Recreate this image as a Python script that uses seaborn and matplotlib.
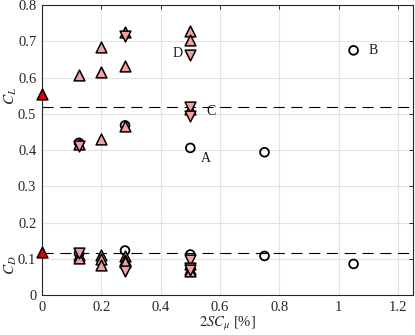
import matplotlib
matplotlib.use("Agg")
import matplotlib.pyplot as plt
import seaborn as sns
import pandas as pd

# ---- data ----
base_x = [0.0]
base_cl = [0.555]
base_cd = [0.12]

circ_x = [0.125, 0.28, 0.5, 0.75, 1.05]
circ_cl = [0.42, 0.468, 0.406, 0.394, 0.675]
circ_cd = [0.115, 0.123, 0.112, 0.108, 0.086]

up_x = [0.125, 0.125, 0.2, 0.2, 0.2, 0.28, 0.28, 0.28, 0.5, 0.5, 0.5]
up_cl = [0.608, 0.416, 0.683, 0.614, 0.431, 0.725, 0.632, 0.466, 0.728, 0.703, 0.512]
up_cd = [0.112, 0.102, 0.110, 0.100, 0.082, 0.108, 0.098, 0.092, 0.085, 0.072, 0.066]

dn_x = [0.125, 0.28, 0.5, 0.5, 0.5]
dn_cl = [0.410, 0.714, 0.663, 0.518, 0.493]
dn_cd = [0.117, 0.066, 0.098, 0.075, 0.068]

ref_cl = 0.518
ref_cd = 0.115

labels = ["A", "B", "C", "D"]
label_x = [0.535, 1.10, 0.555, 0.44]
label_y = [0.378, 0.674, 0.507, 0.667]

xticks = [0, 0.2, 0.4, 0.6, 0.8, 1.0, 1.2]
xticklabels = ["0", "0.2", "0.4", "0.6", "0.8", "1", "1.2"]
yticks = [0, 0.1, 0.2, 0.3, 0.4, 0.5, 0.6, 0.7, 0.8]
yticklabels = ["0", "0.1", "0.2", "0.3", "0.4", "0.5", "0.6", "0.7", "0.8"]

# ---- style ----
sns.set_style("white")
plt.rcParams["font.family"] = ["Liberation Serif", "DejaVu Serif"]
plt.rcParams["mathtext.fontset"] = "stix"

fig = plt.figure(figsize=(4.15, 3.35), dpi=100)
ax = fig.add_axes([0.101, 0.119, 0.894, 0.866])

pink = "#F4A0A0"
red = "#E00000"

def scat(x, y, marker, face, size, lw):
    df = pd.DataFrame({"x": x, "y": y})
    sns.scatterplot(data=df, x="x", y="y", ax=ax, marker=marker, s=size,
                    facecolor=face, edgecolor="black", linewidth=lw, zorder=3,
                    clip_on=False)

for ys in (circ_cl, circ_cd):
    scat(circ_x, ys, "o", "none", 40, 1.3)
for ys in (up_cl, up_cd):
    scat(up_x, ys, "^", pink, 60, 1.1)
for ys in (dn_cl, dn_cd):
    scat(dn_x, ys, "v", pink, 60, 1.1)
for ys in (base_cl, base_cd):
    scat(base_x, ys, "^", red, 60, 1.1)

ax.axhline(ref_cl, color="black", lw=0.8, ls=(0, (10, 6)), zorder=2)
ax.axhline(ref_cd, color="black", lw=0.8, ls=(0, (10, 6)), zorder=2)

for t, x, y in zip(labels, label_x, label_y):
    ax.text(x, y, t, fontsize=10, ha="left", va="center", color="#1a1a1a")

ax.set_xlim(0, 1.25)
ax.set_ylim(0, 0.8)
ax.set_xticks(xticks)
ax.set_xticklabels(xticklabels)
ax.set_yticks(yticks)
ax.set_yticklabels(yticklabels)
ax.tick_params(direction="in", length=3, width=0.7, top=True, right=True,
               labelsize=10.5, colors="#262626", labelcolor="#262626", pad=4)
ax.grid(True, color="#e3e3e3", lw=0.8)
ax.set_axisbelow(True)
for sp in ax.spines.values():
    sp.set_color("#262626")
    sp.set_linewidth(0.8)

ax.set_xlabel(r"$2SC_\mu$ [%]", fontsize=10.5, labelpad=1)
ax.set_ylabel("")
ax.text(-0.083, 0.55, r"$C_L$", transform=ax.get_yaxis_transform(), rotation=90,
        ha="center", va="center", fontsize=11)
ax.text(-0.083, 0.083, r"$C_D$", transform=ax.get_yaxis_transform(), rotation=90,
        ha="center", va="center", fontsize=11)

fig.savefig("out.png", dpi=100)
